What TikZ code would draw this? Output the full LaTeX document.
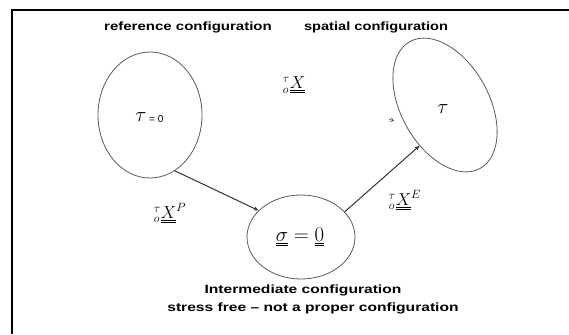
\documentclass[tikz,border=0pt]{standalone}
\usepackage{graphicx}
\usepackage{fontspec}
\setmainfont{Liberation Sans}
\usetikzlibrary{shapes.geometric,arrows.meta}
\newcommand{\wide}[2][1.3]{\scalebox{#1}[1]{#2}}
\begin{document}
\begin{tikzpicture}[x=1pt,y=-1pt,
  conf/.style={ellipse,draw=black!65,line width=0.8pt,inner sep=0pt},
  lbl/.style={font=\bfseries\fontsize{12}{13}\selectfont,inner sep=0pt},
  arr/.style={draw=black!80,line width=1pt,-{Stealth[length=5pt,width=4pt]}},
  mth/.style={inner sep=0pt,font=\fontsize{17.28}{19}\selectfont}]
\useasboundingbox (0,0) rectangle (569,334);
\draw[line width=2pt] (12,334) -- (12,10) -- (569,10);
\node[conf,minimum width=104pt,minimum height=126pt] (L) at (150,115) {};
\node[conf,minimum width=108pt,minimum height=84pt] (M) at (301,237) {};
\node[conf,minimum width=88pt,minimum height=145pt,rotate=29] (R) at (445,105) {};
\node[lbl] (t1) at (188,27) {\wide[1.25]{reference configuration}};
\node[lbl] (t2) at (376,27) {\wide[1.22]{spatial configuration}};
\node[lbl] (t3) at (303,290) {\wide[1.3]{Intermediate configuration}};
\node[lbl] (t4) at (313,308) {\wide[1.3]{stress free -- not a proper configuration}};
\node[mth] (xl) at (294,85) {${}^{\tau}_{o}\underline{\underline{X}}$};
\node[mth] (xp) at (170,213) {${}^{\tau}_{o}\underline{\underline{X}}^{P}$};
\node[mth] (xe) at (405,200) {${}^{\tau}_{o}\underline{\underline{X}}^{E}$};
\node[inner sep=0pt,font=\fontsize{20.74}{22}\selectfont] (s) at (300,237) {$\underline{\underline{\sigma}}=\underline{\underline{0}}$};
\node[inner sep=0pt,font=\fontsize{20.74}{22}\selectfont] (tau) at (141,117) {$\tau$};
\node[font=\fontsize{10}{12}\selectfont,anchor=west,inner sep=0pt] (eq) at (149,119) {= 0};
\node[inner sep=0pt,font=\fontsize{20.74}{22}\selectfont] (tr) at (443,109) {$\tau$};
\draw[arr] (L.-66) -- (M.148);
\draw[arr] (M.30) -- (R.209);
\coordinate (a1) at (389,119);
\coordinate (a2) at (394,121);
\draw[draw=black!70,line width=0.6pt,-{Straight Barb[length=3pt,width=4pt]}] (a1) -- (a2);
\end{tikzpicture}
\end{document}
